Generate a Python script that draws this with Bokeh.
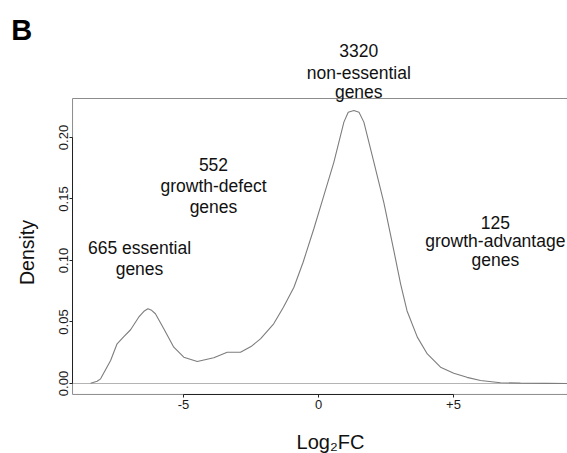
import math
from bokeh.plotting import figure
from bokeh.models import Label, FixedTicker, Range1d
from bokeh.embed import file_html
from bokeh.resources import INLINE

# ---- data ----
log2fc = [-8.44, -8.2, -8.07, -7.70, -7.46, -7.21, -6.96, -6.66, -6.45, -6.32, -6.18, -6.04,
          -5.73, -5.36, -4.99, -4.49, -3.88, -3.38, -2.89, -2.5, -2.15, -1.66, -1.3,
          -0.91, -0.57, -0.17, 0.20, 0.57, 0.94, 1.1, 1.31, 1.5, 1.68, 2.05, 2.42, 2.79,
          3.04, 3.28, 3.66, 4.03, 4.52, 5.01, 5.5, 6.0, 6.74, 7.48, 8.47, 9.2]
density = [0.0002, 0.0018, 0.0038, 0.0187, 0.0323, 0.0382, 0.0437, 0.0539, 0.0590, 0.0607, 0.0595, 0.0567,
           0.0445, 0.0295, 0.0214, 0.0179, 0.0209, 0.0254, 0.0254, 0.030, 0.0363, 0.0485, 0.062,
           0.0783, 0.0986, 0.126, 0.153, 0.18, 0.2125, 0.2205, 0.222, 0.2205, 0.2125, 0.18, 0.147, 0.108,
           0.081, 0.059, 0.0377, 0.024, 0.0133, 0.0084, 0.005, 0.0024, 0.0006, 0.0003, 0.0001, 0.0]

x_tick_values = [-5, 0, 5]
x_tick_labels = ["-5", "0", "+5"]
y_tick_values = [0.0, 0.05, 0.10, 0.15, 0.20]
y_tick_labels = ["0.00", "0.05", "0.10", "0.15", "0.20"]

group_lines = ["665 essential", "genes",
               "552", "growth-defect", "genes",
               "3320", "non-essential", "genes",
               "125", "growth-advantage", "genes"]
group_x = [-6.63, -6.63, -3.89, -3.89, -3.89, 1.49, 1.49, 1.49, 6.55, 6.55, 6.55]
group_y = [0.1103, 0.0933, 0.178, 0.1604, 0.1435, 0.2707, 0.2526, 0.2368, 0.1311, 0.1157, 0.100]

panel_letter = "B"
x_title = "Log\u2082FC"
y_title = "Density"

# plot box (data limits of the R-style plot region) and canvas extent
BOX_X0, BOX_Y0, BOX_Y1 = -9.11, -0.0089, 0.2317
VIEW_X = (-11.778, 9.222)
VIEW_Y = (-0.05691, 0.31138)
FONT = "Liberation Sans"

p = figure(width=567, height=453, x_range=Range1d(*VIEW_X), y_range=Range1d(*VIEW_Y),
           output_backend="svg", toolbar_location=None,
           min_border_left=0, min_border_top=0, min_border_bottom=0, min_border_right=0)
p.grid.visible = False
p.outline_line_color = None
p.background_fill_color = "white"
p.border_fill_color = "white"

# plot box: top, bottom, left (gray)
p.segment(x0=[BOX_X0, BOX_X0, BOX_X0], y0=[BOX_Y1, BOX_Y0, BOX_Y0],
          x1=[VIEW_X[1], VIEW_X[1], BOX_X0], y1=[BOX_Y1, BOX_Y0, BOX_Y1],
          line_color="#8c8c8c", line_width=1)
# zero reference line
p.segment(x0=[BOX_X0], y0=[0], x1=[VIEW_X[1]], y1=[0], line_color="#b4b4b4", line_width=1)

p.line(log2fc, density, line_color="#7d7d7d", line_width=1.1)

# axes
p.xaxis.ticker = FixedTicker(ticks=x_tick_values)
p.xaxis.major_label_overrides = dict(zip(x_tick_values, x_tick_labels))
p.xaxis.bounds = (min(x_tick_values), max(x_tick_values))
p.xaxis.fixed_location = BOX_Y0
p.yaxis.ticker = FixedTicker(ticks=y_tick_values)
p.yaxis.major_label_overrides = dict(zip(y_tick_values, y_tick_labels))
p.yaxis.bounds = (min(y_tick_values), max(y_tick_values))
p.yaxis.fixed_location = BOX_X0
p.yaxis.major_label_orientation = "vertical"

for ax in (p.xaxis, p.yaxis):
    ax.axis_line_color = "#222222"
    ax.axis_line_width = 1
    ax.major_tick_line_color = "#222222"
    ax.major_tick_out = 3
    ax.major_tick_in = 0
    ax.minor_tick_line_color = None
    ax.major_label_text_font = FONT
    ax.major_label_text_font_size = "13px"
    ax.major_label_text_color = "#1a1a1a"
    ax.major_label_standoff = 3
p.yaxis.major_label_standoff = 2

# axis titles
p.add_layout(Label(x=0.444, y=-0.0472, text=x_title, text_align="center",
                   text_baseline="alphabetic", text_font=FONT, text_font_size="20px",
                   text_color="#111111"))
p.add_layout(Label(x=-10.80, y=0.1065, text=y_title, angle=math.pi / 2, text_align="center",
                   text_baseline="middle", text_font=FONT, text_font_size="19.5px",
                   text_color="#111111"))

for t, x, y in zip(group_lines, group_x, group_y):
    p.add_layout(Label(x=x, y=y, text=t, text_align="center", text_baseline="alphabetic",
                       text_font=FONT, text_font_size="17.5px", text_color="#111111"))

p.add_layout(Label(x=-11.38, y=0.2876, text=panel_letter, text_align="left",
                   text_baseline="alphabetic", text_font=FONT, text_font_style="bold",
                   text_font_size="29px", text_color="#000000"))

open("out.html", "w").write(file_html(p, INLINE))
